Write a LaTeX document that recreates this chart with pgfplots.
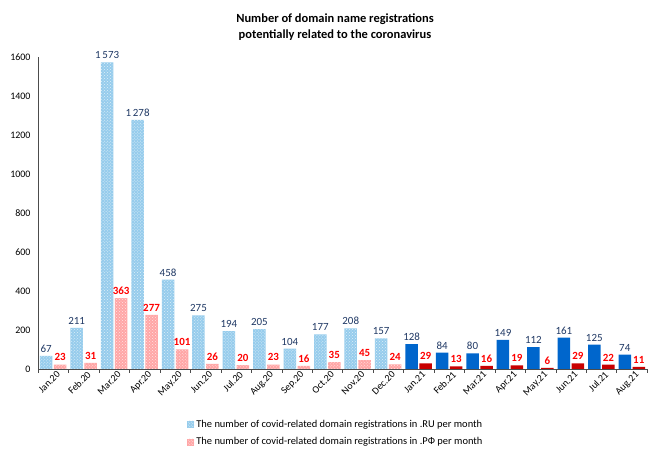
\documentclass[border=0pt]{standalone}
\usepackage{pgfplots}
\pgfplotsset{compat=1.18}
\usepackage{fontspec}
\setmainfont{Carlito}
\usetikzlibrary{patterns}
\definecolor{ruLight}{RGB}{150,204,236}
\definecolor{rfLight}{RGB}{255,166,166}
\definecolor{ruDark}{RGB}{0,102,204}
\definecolor{rfDark}{RGB}{200,0,0}
\definecolor{lblBlue}{RGB}{31,56,100}
\definecolor{lblRed}{RGB}{255,0,0}
\begin{document}
\begin{tikzpicture}
\useasboundingbox (0,0) rectangle (660bp,461bp);
\node[align=center, font=\bfseries\fontsize{12.5}{15.5}\selectfont] at (335bp,434bp)
  {Number of domain name registrations\\potentially related to the coronavirus};
\begin{axis}[
    at={(38bp,92bp)}, anchor=south west,
    scale only axis, width=609bp, height=312bp,
    ybar, bar width=12.5bp,
    xmin=-0.5, xmax=19.5, ymin=0, ymax=1600,
    axis x line=bottom, axis y line=left,
    axis line style={draw=black!70, -},
    ytick={0,200,...,1600},
    xtick={0,...,19},
    xticklabels={Jan.20,Feb.20,Mar.20,Apr.20,May.20,Jun.20,Jul.20,Aug.20,Sep.20,Oct.20,Nov.20,Dec.20,Jan.21,Feb.21,Mar.21,Apr.21,May.21,Jun.21,Jul.21,Aug.21},
    minor xtick={-0.5,0.5,...,19.5},
    major tick length=0pt, minor tick length=4bp,
    tick align=outside,
    minor tick style={draw=black!70},
    x tick label style={rotate=45, anchor=north east, font=\fontsize{10}{11}\selectfont, inner sep=1bp, xshift=2bp, yshift=-2bp},
    y tick label style={font=\fontsize{10}{11}\selectfont, xshift=-4bp},
    /pgf/number format/assume math mode=true,
    scaled y ticks=false,
    yticklabel style={/pgf/number format/1000 sep={}},
    nodes near coords,
    nodes near coords style={/pgf/number format/1000 sep={\,}, /pgf/number format/assume math mode=true, font=\fontsize{11}{13}\selectfont},
    legend style={at={(0.24,-0.15)}, anchor=north west, draw=none, fill=none,
        font=\fontsize{10.5}{12}\selectfont, cells={anchor=west}, row sep=5bp},
    legend image code/.code={\path[#1] (0bp,-3.5bp) rectangle (7bp,3.5bp);},
]
\addplot[bar shift=-7bp, draw=none, fill=ruLight,
    postaction={pattern=crosshatch dots, pattern color=white!70!ruLight},
    every node near coord/.append style={text=lblBlue}]
  coordinates {(0,67) (1,211) (2,1573) (3,1278) (4,458) (5,275) (6,194) (7,205) (8,104) (9,177) (10,208) (11,157)};
\addlegendentry{The number of covid-related domain registrations in .RU per month}
\addplot[bar shift=7bp, draw=none, fill=rfLight,
    postaction={pattern=crosshatch dots, pattern color=white!70!rfLight},
    every node near coord/.append style={text=lblRed, font=\bfseries\fontsize{11}{13}\selectfont}]
  coordinates {(0,23) (1,31) (2,363) (3,277) (4,101) (5,26) (6,20) (7,23) (8,16) (9,35) (10,45) (11,24)};
\addlegendentry{The number of covid-related domain registrations in .РФ per month}
\addplot[forget plot, bar shift=-7bp, draw=none, fill=ruDark,
    every node near coord/.append style={text=lblBlue}]
  coordinates {(12,128) (13,84) (14,80) (15,149) (16,112) (17,161) (18,125) (19,74)};
\addplot[forget plot, bar shift=7bp, draw=none, fill=rfDark,
    every node near coord/.append style={text=lblRed, font=\bfseries\fontsize{11}{13}\selectfont}]
  coordinates {(12,29) (13,13) (14,16) (15,19) (16,6) (17,29) (18,22) (19,11)};
\end{axis}
\end{tikzpicture}
\end{document}
